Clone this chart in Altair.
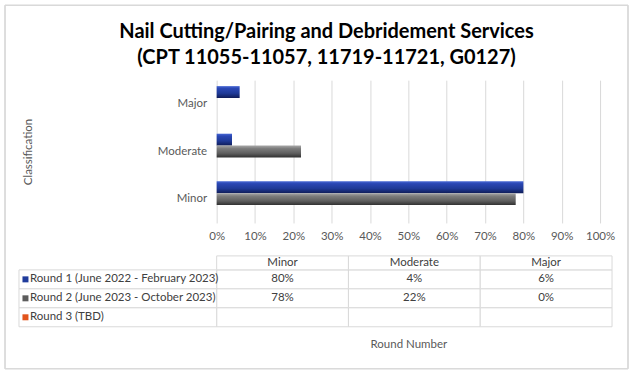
import altair as alt
import pandas as pd

FONT = "Lato, 'Liberation Sans', sans-serif"

categories = ["Minor", "Moderate", "Major"]
series = [
    "Round 1 (June 2022 - February 2023)",
    "Round 2 (June 2023 - October 2023)",
    "Round 3 (TBD)",
]
round1 = [0.80, 0.04, 0.06]
round2 = [0.78, 0.22, 0.00]
round3 = [None, None, None]
x_ticks = [0, 0.1, 0.2, 0.3, 0.4, 0.5, 0.6, 0.7, 0.8, 0.9, 1.0]
swatch_colors = ["#203c9c", "#5c5c5c", "#e2541c"]
title_lines = [
    "Nail Cutting/Pairing and Debridement Services",
    "(CPT 11055-11057, 11719-11721, G0127)",
]

rows = []
for si, (s, vals) in enumerate(zip(series, [round1, round2, round3])):
    for ci, (c, v) in enumerate(zip(categories, vals)):
        rows.append(dict(series=s, category=c, value=v, row=si, col=ci,
                         label="" if v is None else f"{round(v * 100)}%"))
df = pd.DataFrame(rows)
header_df = pd.DataFrame({"category": categories, "col": list(range(len(categories)))})
legend_df = pd.DataFrame({"series": series, "row": list(range(len(series)))})

FS = 11.5
# ---------------- bar chart ----------------
base = alt.Chart(df).encode(
    x=alt.X("value:Q", scale=alt.Scale(domain=[0, 1], nice=False),
            axis=alt.Axis(values=x_ticks, format="%", grid=True, gridColor="#d9d9d9",
                          domain=False, ticks=False, labelPadding=8, title=None,
                          labelOverlap=False, labelFlush=False)),
    y=alt.Y("category:N", sort=["Major", "Moderate", "Minor"],
            scale=alt.Scale(paddingInner=0.25, paddingOuter=0.125),
            axis=alt.Axis(title="Classification", titleX=-188, titleY=71.5, titleAngle=270,
                          titleAlign="center", titleBaseline="middle",
                          domain=False, ticks=False, labelPadding=10, grid=False)),
    yOffset=alt.YOffset("series:N", scale=alt.Scale(domain=series), sort=series),
)

blue_grad = alt.Gradient(gradient="linear", x1=0, y1=0, x2=0, y2=1, stops=[
    alt.GradientStop(color="#4868d4", offset=0),
    alt.GradientStop(color="#2a47b4", offset=0.2),
    alt.GradientStop(color="#1f3a98", offset=0.6),
    alt.GradientStop(color="#0f1c58", offset=1),
])
gray_grad = alt.Gradient(gradient="linear", x1=0, y1=0, x2=0, y2=1, stops=[
    alt.GradientStop(color="#a8a8a8", offset=0),
    alt.GradientStop(color="#7c7c7c", offset=0.25),
    alt.GradientStop(color="#5e5e5e", offset=0.65),
    alt.GradientStop(color="#303030", offset=1),
])

bars1 = base.mark_bar(color=blue_grad).transform_filter(alt.datum.series == series[0])
bars2 = base.mark_bar(color=gray_grad).transform_filter(alt.datum.series == series[1])

bar_chart = alt.layer(bars1, bars2).properties(
    width=384, height=143,
    title=alt.Title(title_lines, fontSize=20, font=FONT, fontWeight="bold", color="#000000",
                    anchor="middle", dx=-82, offset=12, lineHeight=26.5),
)

# ---------------- data table ----------------
tx = alt.Scale(domain=[0, 3], nice=False, zero=False)
ty = alt.Scale(domain=[-0.737, 3], nice=False, zero=False, reverse=True)
GRID = "#d9d9d9"
TXT = "#404040"

frame = alt.Chart(header_df).mark_rect(filled=False, stroke=GRID, strokeWidth=1).encode(
    x=alt.value(-212), x2=alt.value(412), y=alt.value(-251), y2=alt.value(113))

cells = alt.Chart(df).mark_rect(fill="white", stroke=GRID, strokeWidth=1).transform_calculate(
    col2="datum.col + 1", row2="datum.row + 1").encode(
    x=alt.X("col:Q", scale=tx,
            axis=alt.Axis(title="Round Number", labels=False, ticks=False, domain=False,
                          grid=False, titleX=192, titleAlign="center", titlePadding=12)),
    x2="col2:Q",
    y=alt.Y("row:Q", scale=ty, axis=None),
    y2="row2:Q",
)

head_cells = alt.Chart(header_df).mark_rect(fill="white", stroke=GRID, strokeWidth=1).transform_calculate(
    col2="datum.col + 1").encode(
    x=alt.X("col:Q", scale=tx), x2="col2:Q",
    y=alt.datum(-0.737, scale=ty), y2=alt.datum(0))

legend_cells = alt.Chart(legend_df).mark_rect(fill="white", stroke=GRID, strokeWidth=1).transform_calculate(
    row2="datum.row + 1").encode(
    x=alt.datum(-1.5, scale=tx), x2=alt.datum(0),
    y=alt.Y("row:Q", scale=ty), y2="row2:Q")

head_text = alt.Chart(header_df).mark_text(font=FONT, fontSize=FS, color=TXT).transform_calculate(
    cx="datum.col + 0.5").encode(
    x=alt.X("cx:Q", scale=tx), y=alt.datum(-0.37, scale=ty), text="category:N")

val_text = alt.Chart(df).mark_text(font=FONT, fontSize=FS, color=TXT).transform_calculate(
    cx="datum.col + 0.5", cy="datum.row + 0.5").encode(
    x=alt.X("cx:Q", scale=tx), y=alt.Y("cy:Q", scale=ty), text="label:N")

leg_text = alt.Chart(legend_df).mark_text(font=FONT, fontSize=FS, color=TXT, align="left", dx=11).transform_calculate(
    cy="datum.row + 0.5").encode(
    x=alt.datum(-1.5, scale=tx), y=alt.Y("cy:Q", scale=ty), text="series:N")

swatches = alt.Chart(legend_df).mark_square(size=36, opacity=1, xOffset=6.5).transform_calculate(
    cy="datum.row + 0.5").encode(
    x=alt.datum(-1.5, scale=tx), y=alt.Y("cy:Q", scale=ty),
    color=alt.Color("series:N", scale=alt.Scale(domain=series, range=swatch_colors), legend=None))

table = alt.layer(frame, cells, head_cells, legend_cells, head_text, val_text, leg_text, swatches).properties(
    width=396, height=71)

chart = alt.vconcat(bar_chart, table, spacing=33, bounds="flush").properties(
    padding={"left": 4, "top": 4, "right": 4, "bottom": 4},
    autosize=alt.AutoSizeParams(type="pad"),
).configure(font=FONT).configure_view(stroke=None).configure_axis(
    labelFont=FONT, titleFont=FONT, labelFontSize=FS, titleFontSize=FS,
    labelColor="#595959", titleColor="#595959", titleFontWeight="normal",
)

chart.save("out.html", embed_options={"renderer": "svg", "actions": False})
